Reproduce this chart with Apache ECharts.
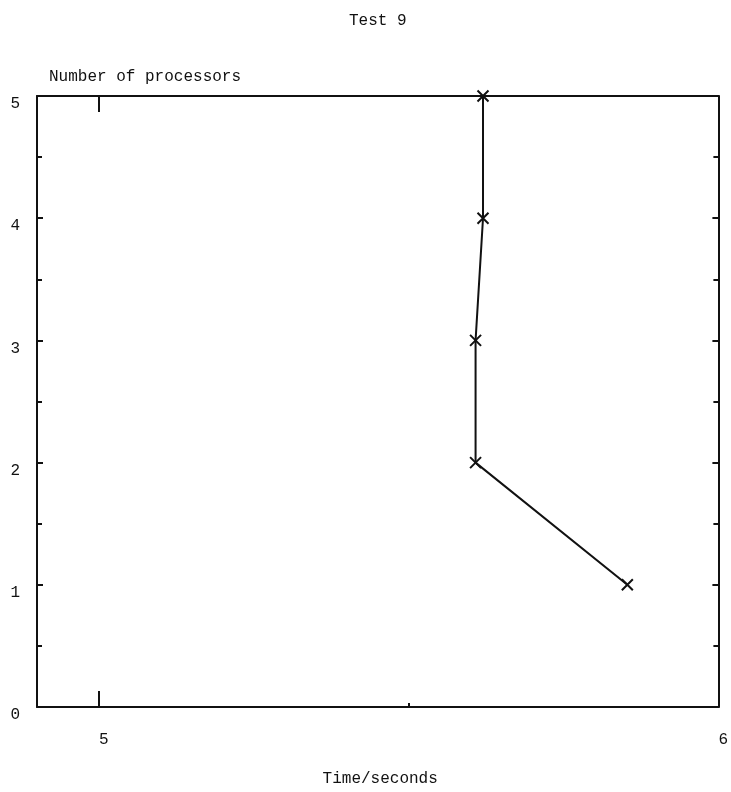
<!DOCTYPE html>
<html>
<head>
<meta charset="utf-8">
<script src="https://cdn.jsdelivr.net/npm/echarts@6/dist/echarts.min.js"></script>
<style>
  html, body { margin: 0; padding: 0; background: #fff; }
  #chart { width: 731px; height: 792px; }
</style>
</head>
<body>
<div id="chart"></div>
<script>
// Run times of Test 9 for each processor count
const processors = [5, 4, 3, 2, 1];
const timeSeconds = [5.62, 5.62, 5.608, 5.608, 5.853];
const xLabelValues = [5, 6];
const xMajorTicks = [5];
const xMinorTicks = [5.5];

const FONT = '"Liberation Mono", "DejaVu Sans Mono", monospace';
const INK = '#111';
const X_MIN = 4.9, X_MAX = 6.0;

const points = processors.map((p, i) => [timeSeconds[i], p]);

const chart = echarts.init(document.getElementById('chart'), null, { renderer: 'canvas' });

const frameLine = { show: true, lineStyle: { color: INK, width: 2 } };

chart.setOption({
  backgroundColor: '#fff',
  animation: false,
  title: {
    text: 'Test 9',
    left: 344,
    top: 8,
    textStyle: { fontFamily: FONT, fontSize: 16, fontWeight: 'normal', color: INK }
  },
  grid: { left: 37, right: 11, top: 96, bottom: 83, containLabel: false },
  xAxis: [
    {
      type: 'value', position: 'bottom', min: X_MIN, max: X_MAX,
      axisLine: frameLine,
      splitLine: { show: false },
      axisTick: { show: true, inside: true, length: 16, customValues: xMajorTicks,
        lineStyle: { color: INK, width: 2 } },
      axisLabel: { customValues: xLabelValues, align: 'left', margin: 25,
        fontFamily: FONT, fontSize: 16, color: INK },
      name: 'Time/seconds', nameLocation: 'middle', nameGap: 72,
      nameTextStyle: { fontFamily: FONT, fontSize: 16, color: INK, verticalAlign: 'middle', padding: [0, 0, 0, 5] }
    },
    {
      type: 'value', position: 'bottom', min: X_MIN, max: X_MAX,
      axisLine: { show: false },
      splitLine: { show: false },
      axisTick: { show: true, inside: true, length: 4, customValues: xMinorTicks,
        lineStyle: { color: INK, width: 2 } },
      axisLabel: { show: false }
    },
    {
      type: 'value', position: 'top', min: X_MIN, max: X_MAX,
      axisLine: frameLine,
      splitLine: { show: false },
      axisTick: { show: true, inside: true, length: 16, customValues: xMajorTicks,
        lineStyle: { color: INK, width: 2 } },
      axisLabel: { show: false }
    }
  ],
  yAxis: [
    {
      type: 'value', position: 'left', min: 0, max: 5, interval: 1,
      axisLine: frameLine,
      splitLine: { show: false },
      axisTick: { show: true, inside: true, length: 6, lineStyle: { color: INK, width: 2 } },
      minorTick: { show: true, splitNumber: 2, length: 5, lineStyle: { color: INK, width: 2 } },
      axisLabel: { margin: 17, verticalAlign: 'top', fontFamily: FONT, fontSize: 16, color: INK },
      name: 'Number of processors', nameLocation: 'end', nameGap: 19,
      nameTextStyle: { fontFamily: FONT, fontSize: 16, color: INK, align: 'left',
        verticalAlign: 'middle', padding: [0, 0, 0, 12] }
    },
    {
      type: 'value', position: 'right', min: 0, max: 5, interval: 1,
      axisLine: frameLine,
      splitLine: { show: false },
      axisTick: { show: true, inside: true, length: 6, lineStyle: { color: INK, width: 2 } },
      minorTick: { show: true, splitNumber: 2, length: 5, lineStyle: { color: INK, width: 2 } },
      axisLabel: { show: false }
    }
  ],
  series: [
    {
      type: 'line',
      xAxisIndex: 0,
      yAxisIndex: 0,
      data: points,
      symbol: 'path://M0,0L10,10M10,0L0,10',
      symbolSize: 11,
      showSymbol: true,
      lineStyle: { color: INK, width: 2 },
      itemStyle: { color: INK, borderColor: INK, borderWidth: 2 },
      z: 5
    }
  ]
});
</script>
</body>
</html>
